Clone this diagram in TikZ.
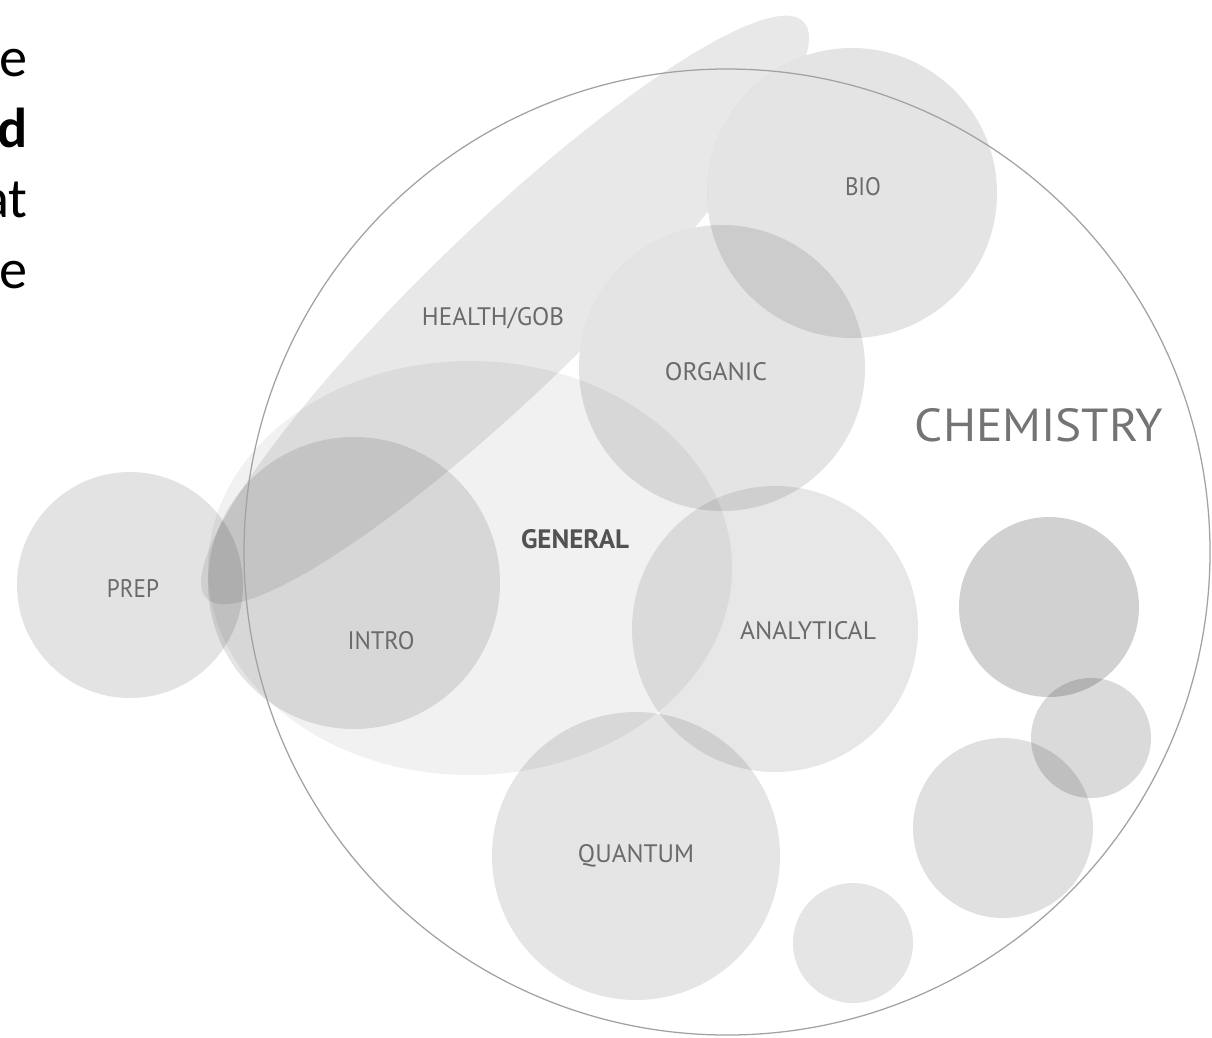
\documentclass[tikz,border=0pt]{standalone}
\usepackage{fontspec}
\setmainfont{Carlito}
\newfontfamily\labfont{PT Sans}
\definecolor{labgray}{HTML}{6A6A6A}
\definecolor{chemgray}{HTML}{747474}
\definecolor{ringgray}{HTML}{A2A2A2}
\begin{document}
\begin{tikzpicture}[x=0.25mm,y=-0.25mm,
  blob/.style={fill=black,fill opacity=#1},
  lab/.style={text=labgray,inner sep=0pt,font=\labfont},
  frag/.style={inner sep=0pt,anchor=base east,font=\fontsize{40}{48}\selectfont},
  ring/.style={draw=ringgray,line width=0.9pt}]
\useasboundingbox (0,0) rectangle (1212,1037);
% cropped text at left
\node[frag] (f1) at (28,76) {e};
\node[frag] (f2) at (28,147) {\bfseries d};
\node[frag] (f3) at (28,217) {at};
\node[frag] (f4) at (28,288) {e};
% GENERAL area
\fill[blob=0.055] (470,568) ellipse [x radius=262, y radius=207];
% HEALTH/GOB ellipse (lies under ORGANIC and BIO)
\begin{scope}
  \clip[rotate around={44:(505,310)}] (505,310) ellipse [x radius=415, y radius=82];
  \fill[blob=0.09,even odd rule] (0,0) rectangle (1212,1037)
    (722,368) circle [radius=143] (852,193) circle [radius=145];
\end{scope}
% course circles
\fill[blob=0.11] (130,585) circle [radius=113];   % PREP
\fill[blob=0.105] (354,583) circle [radius=146];  % INTRO
\fill[blob=0.105] (722,368) circle [radius=143];  % ORGANIC
\fill[blob=0.105] (852,193) circle [radius=145];  % BIO
\fill[blob=0.095] (775,629) circle [radius=143];  % ANALYTICAL
\fill[blob=0.10] (636,856) circle [radius=144];   % QUANTUM
% unlabelled circles
\fill[blob=0.18] (1049,607) circle [radius=90];
\fill[blob=0.145] (1091,738) circle [radius=60];
\fill[blob=0.12] (1003,828) circle [radius=90];
\fill[blob=0.10] (853,943) circle [radius=60];
% CHEMISTRY outline
\draw[ring] (727,552) circle [radius=483];
% labels
\node[lab] (health) at (493,318) {\resizebox{35.5mm}{4.5mm}{HEALTH/GOB}};
\node[lab] (organic) at (716,372) {\resizebox{25.5mm}{4.5mm}{ORGANIC}};
\node[lab] (bio) at (863,187) {\resizebox{9mm}{4.5mm}{BIO}};
\node[lab,text=black!68] (general) at (575,539) {\resizebox{27mm}{4.75mm}{\bfseries GENERAL}};
\node[lab] (prep) at (133,588) {\resizebox{13mm}{4.5mm}{PREP}};
\node[lab] (intro) at (381,641) {\resizebox{16.75mm}{4.5mm}{INTRO}};
\node[lab] (analytical) at (808,631) {\resizebox{34mm}{4.5mm}{ANALYTICAL}};
\node[lab] (quantum) at (636,856) {\resizebox{29mm}{4.5mm}{QUANTUM}};
\node[lab,text=chemgray] (chemistry) at (1039,425) {\resizebox{62mm}{8.25mm}{CHEMISTRY}};
\end{tikzpicture}
\end{document}
